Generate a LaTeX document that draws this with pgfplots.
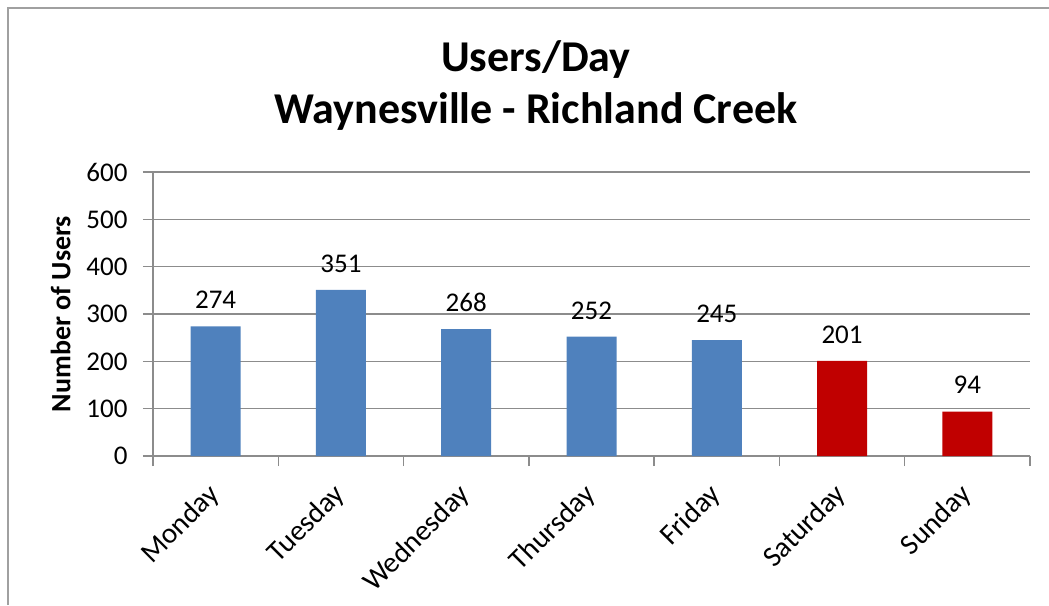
\documentclass[border=0pt]{standalone}
\usepackage{pgfplots}
\pgfplotsset{compat=1.18}
\usepackage{fontspec}
\setmainfont{Carlito}
\definecolor{barblue}{HTML}{4F81BD}
\definecolor{barred}{HTML}{C00000}
\definecolor{gridgray}{HTML}{8C8C8C}
\definecolor{framegray}{HTML}{A0A0A0}
\begin{document}
\begin{tikzpicture}
\path[use as bounding box] (0pt,0pt) rectangle (1049pt,605pt);
\draw[framegray, line width=1.5pt] (8pt,0pt) -- (8pt,597pt) -- (1049pt,597pt);
\node[font=\fontsize{44}{48}\selectfont\bfseries, anchor=base] at (536pt,533pt) {Users/Day};
\node[font=\fontsize{44}{48}\selectfont\bfseries, anchor=base] at (536pt,481pt) {Waynesville - Richland Creek};
\begin{axis}[
  at={(153pt,149pt)}, anchor=south west,
  scale only axis, width=877pt, height=284pt,
  xmin=-0.5, xmax=6.5, ymin=0, ymax=600,
  ytick={0,100,...,600},
  xtick={0,...,6},
  xticklabels={Monday,Tuesday,Wednesday,Thursday,Friday,Saturday,Sunday},
  minor xtick={-0.5,0.5,...,6.5},
  axis x line*=bottom, axis y line*=left,
  axis line style={gridgray, line width=1.5pt, -},
  ymajorgrids, grid style={gridgray, line width=1.5pt},
  major x tick style={draw=none},
  minor x tick style={gridgray, line width=1.5pt},
  major y tick style={gridgray, line width=1.5pt},
  tick align=outside, major tick length=10pt, minor tick length=10pt,
  /pgf/number format/assume math mode=true,
  tick label style={font=\fontsize{27}{32}\selectfont},
  yticklabel style={xshift=-12pt},
  xticklabel style={rotate=45, anchor=north east, xshift=-14pt, yshift=-1pt,
    font=\fontsize{29}{34}\selectfont},
  ylabel={Number of Users},
  every axis y label/.style={at={(ticklabel cs:0.5)}, rotate=90, anchor=south, yshift=9pt,
    font=\fontsize{28}{32}\selectfont\bfseries},
  ybar, bar width=50pt, bar shift=0pt,
  nodes near coords,
  every node near coord/.append style={font=\fontsize{27}{32}\selectfont, yshift=14pt},
]
\addplot[fill=barblue, draw=none] coordinates {(0,274) (1,351) (2,268) (3,252) (4,245)};
\addplot[fill=barred, draw=none] coordinates {(5,201) (6,94)};
\end{axis}
\end{tikzpicture}
\end{document}
